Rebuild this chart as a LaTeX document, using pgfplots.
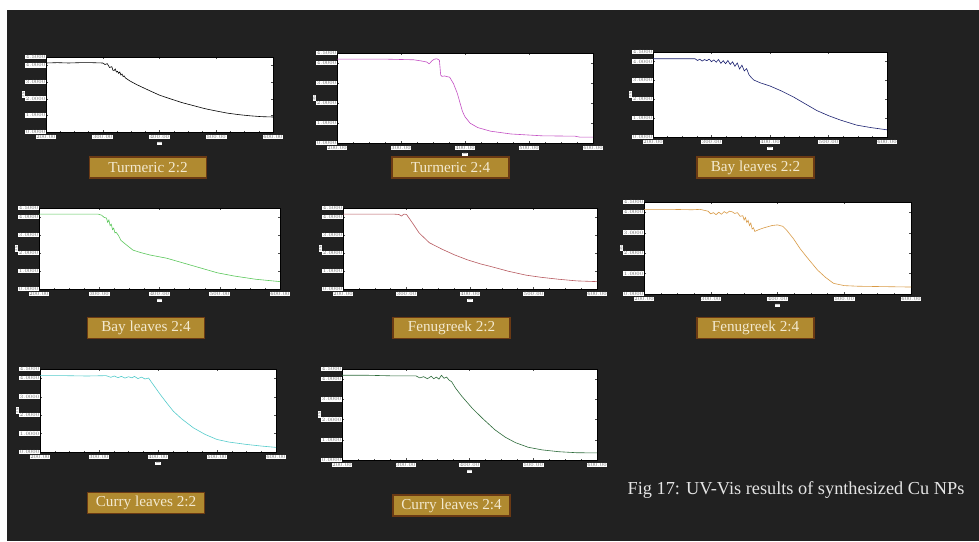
\documentclass[border=0pt]{standalone}
\usepackage{pgfplots}
\pgfplotsset{compat=1.18}
\usepackage{fontspec}
\setmainfont{Liberation Serif}
\definecolor{bgdark}{HTML}{212121}
\definecolor{gold}{HTML}{B08A30}
\definecolor{goldedge}{HTML}{6B3A14}
\definecolor{cream}{HTML}{F3E9CF}
\pgfplotsset{uv/.style={scale only axis, anchor=north west,
  xmin=200,xmax=600,ymin=0,ymax=4.5,
  xtick={200,300,400,500,600}, ytick={0,1,2,3,4,4.5},
  tick align=inside, minor x tick num=3, minor y tick num=1,
  major tick length=2pt, minor tick length=1pt,
  axis background/.style={fill=white},
  axis line style={black,line width=0.4pt},
  tick style={black!70,line width=0.3pt},
  ticklabel style={font=\fontsize{3.3}{3.3}\selectfont, fill=white, text=black!60, inner sep=0.6pt},
  xticklabel style={yshift=-2.5pt,/pgf/number format/fixed,/pgf/number format/fixed zerofill,/pgf/number format/precision=2},
  yticklabel style={/pgf/number format/fixed,/pgf/number format/fixed zerofill,/pgf/number format/precision=4},
  xlabel={nm}, ylabel={Abs},
  xlabel style={yshift=-2.5pt},
  label style={font=\fontsize{3.3}{3.3}\selectfont, fill=white, text=black!60, inner sep=0.6pt},
  every axis plot/.append style={line width=0.6pt, mark=none}}}
\tikzset{tag/.style={fill=gold, draw=goldedge, line width=1.3pt, text=cream, minimum height=21pt, inner xsep=0pt, font=\fontsize{15.2}{15.2}\selectfont}}
\begin{document}
\begin{tikzpicture}
\useasboundingbox (0pt,0pt) rectangle (979pt,541pt);
\fill[white] (0pt,0pt) rectangle (979pt,541pt);
\fill[bgdark] (7pt,0pt) rectangle (979pt,531pt);

% 1 Turmeric 2:2
\begin{axis}[uv, at={(46pt,484pt)}, width=227pt, height=75pt]
\addplot[black] coordinates {(200,4.14)(220,4.16)(240,4.14)(260,4.16)(280,4.16)(300,4.14)(304,4.05)(308,4.10)(312,3.87)(316,3.92)(318,3.70)(320,3.69)(322,3.78)(324,3.60)(326,3.64)(328,3.52)(330,3.60)(332,3.42)(334,3.48)(336,3.33)(338,3.36)(340,3.24)(348,3.06)(360,2.84)(380,2.52)(400,2.21)(420,1.98)(440,1.76)(460,1.58)(480,1.40)(500,1.26)(520,1.13)(540,1.04)(560,0.97)(580,0.92)(600,0.90)};
\end{axis}
\node[tag, minimum width=117pt] at (148pt,373.5pt) {Turmeric 2:2};

% 2 Turmeric 2:4
\begin{axis}[uv, at={(337pt,488pt)}, width=256pt, height=90pt]
\addplot[color={rgb,255:red,196;green,80;blue,196}] coordinates {(200,4.19)(240,4.19)(280,4.19)(320,4.16)(332,4.10)(340,4.05)(344,3.96)(346,4.02)(348,4.10)(352,4.19)(356,4.21)(360,4.14)(362,3.40)(364,3.33)(368,3.35)(376,3.29)(382,2.97)(388,2.48)(392,2.03)(396,1.58)(400,1.31)(408,0.99)(420,0.77)(440,0.59)(472,0.45)(520,0.36)(572,0.34)(580,0.29)(600,0.29)};
\end{axis}
\node[tag, minimum width=117pt] at (450.5pt,373.5pt) {Turmeric 2:4};

% 3 Bay leaves 2:2
\begin{axis}[uv, at={(653pt,489pt)}, width=234pt, height=85pt]
\addplot[color={rgb,255:red,26;green,32;blue,112}] coordinates {(200,4.14)(240,4.14)(272,4.14)(276,4.05)(280,4.12)(284,4.02)(288,4.10)(292,4.04)(296,4.12)(300,3.99)(304,4.08)(308,3.96)(312,4.10)(316,3.90)(320,4.04)(324,3.88)(328,4.05)(332,3.84)(336,3.98)(340,3.74)(344,3.92)(348,3.60)(352,3.80)(356,3.50)(360,3.62)(364,3.30)(368,3.15)(372,3.02)(384,2.86)(400,2.70)(420,2.43)(440,2.12)(460,1.76)(480,1.40)(500,1.13)(520,0.90)(548,0.63)(572,0.50)(600,0.38)};
\end{axis}
\node[tag, minimum width=117pt] at (755.5pt,373.5pt) {Bay leaves 2:2};

% 4 Bay leaves 2:4
\begin{axis}[uv, at={(39pt,333pt)}, width=241pt, height=81pt]
\addplot[color={rgb,255:red,92;green,200;blue,92}] coordinates {(200,4.16)(240,4.16)(280,4.16)(298,4.16)(304,4.10)(308,3.98)(312,3.94)(314,3.70)(316,3.83)(318,3.52)(320,3.60)(322,3.30)(324,3.38)(326,3.12)(328,3.15)(332,2.97)(336,2.70)(344,2.48)(356,2.16)(368,2.03)(384,1.89)(412,1.71)(440,1.44)(468,1.17)(496,0.90)(524,0.72)(560,0.54)(600,0.41)};
\end{axis}
\node[tag, minimum width=117pt] at (146pt,213pt) {Bay leaves 2:4};

% 5 Fenugreek 2:2
\begin{axis}[uv, at={(343pt,333pt)}, width=254pt, height=81pt]
\addplot[color={rgb,255:red,184;green,90;blue,96}] coordinates {(200,4.16)(240,4.16)(280,4.16)(288,4.14)(292,4.05)(296,4.16)(300,4.14)(308,3.74)(320,3.11)(336,2.57)(356,2.21)(376,1.89)(396,1.62)(416,1.40)(436,1.22)(460,0.99)(488,0.77)(512,0.65)(540,0.54)(568,0.45)(600,0.41)};
\end{axis}
\node[tag, minimum width=117pt] at (451.5pt,213pt) {Fenugreek 2:2};

% 6 Fenugreek 2:4
\begin{axis}[uv, at={(644pt,339pt)}, width=267pt, height=92pt]
\addplot[color={rgb,255:red,217;green,154;blue,69}] coordinates {(200,4.14)(240,4.14)(272,4.12)(284,4.14)(296,4.05)(300,3.92)(304,3.98)(308,3.88)(312,4.00)(316,3.90)(320,4.03)(324,3.95)(328,4.05)(332,4.02)(336,3.94)(340,3.98)(344,3.80)(348,3.83)(350,3.62)(352,3.74)(354,3.50)(356,3.60)(358,3.35)(360,3.47)(362,3.18)(364,3.24)(366,3.06)(372,3.15)(380,3.24)(392,3.35)(400,3.38)(408,3.31)(414,3.11)(424,2.70)(434,2.21)(444,1.80)(460,1.17)(472,0.81)(484,0.52)(500,0.41)(520,0.38)(560,0.36)(600,0.34)};
\end{axis}
\node[tag, minimum width=117pt] at (755.5pt,213pt) {Fenugreek 2:4};

% 7 Curry leaves 2:2
\begin{axis}[uv, at={(40pt,172pt)}, width=236pt, height=83pt]
\addplot[color={rgb,255:red,85;green,204;blue,204}] coordinates {(200,4.14)(240,4.14)(280,4.12)(312,4.14)(320,4.05)(326,4.12)(332,4.03)(338,4.10)(344,4.01)(350,4.08)(356,4.02)(360,4.10)(366,3.98)(372,4.06)(378,3.96)(384,4.01)(388,3.83)(396,3.47)(404,3.11)(416,2.61)(426,2.21)(440,1.80)(460,1.31)(480,0.95)(500,0.68)(520,0.54)(550,0.41)(576,0.32)(600,0.25)};
\end{axis}
\node[tag, minimum width=117pt] at (146pt,38pt) {Curry leaves 2:2};

% 8 Curry leaves 2:4
\begin{axis}[uv, at={(342pt,172pt)}, width=255pt, height=91pt]
\addplot[color={rgb,255:red,47;green,109;blue,60}] coordinates {(200,4.19)(240,4.19)(280,4.16)(316,4.16)(322,4.06)(328,4.12)(334,4.02)(340,4.14)(344,4.02)(348,4.10)(352,4.00)(356,4.19)(360,4.04)(364,4.10)(368,3.95)(372,3.87)(378,3.56)(388,3.15)(404,2.57)(420,2.07)(440,1.49)(456,1.13)(472,0.86)(492,0.63)(514,0.50)(540,0.41)(568,0.36)(600,0.35)};
\end{axis}
\node[tag, minimum width=117pt] at (451.5pt,35.5pt) {Curry leaves 2:4};

\node[text=white!90!black, font=\fontsize{18.3}{18.3}\selectfont] at (796pt,51pt) {Fig 17: UV-Vis results of synthesized Cu NPs};
\end{tikzpicture}
\end{document}
